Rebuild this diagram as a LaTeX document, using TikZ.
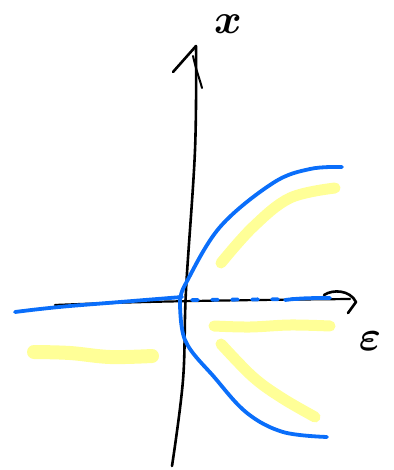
\documentclass[tikz,border=0pt]{standalone}
\usepackage{amsmath,bm}
\usetikzlibrary{calc}
\definecolor{penblue}{RGB}{10,110,250}
\definecolor{hilite}{RGB}{255,255,140}
\begin{document}
\begin{tikzpicture}[x=1pt,y=-1pt,
  ink/.style={line width=2.6pt,line cap=round,line join=round,black},
  bluepen/.style={line width=3.8pt,line cap=round,line join=round,penblue},
  marker/.style={line width=11pt,line cap=round,line join=round,hilite,opacity=0.9},
  lbl/.style={inner sep=0pt,scale=4.2}]
\useasboundingbox (0,0) rectangle (393,470);
% yellow highlights
\draw[marker] plot[smooth,tension=0.6] coordinates {(221,263) (253,227) (290,198) (335,188)};
\draw[marker] plot[smooth,tension=0.6] coordinates {(214,326) (250,327) (290,325) (330,326)};
\draw[marker] plot[smooth,tension=0.6] coordinates {(221,344) (253,377) (282,398) (315,417)};
\draw[marker,line width=14pt] plot[smooth,tension=0.6] coordinates {(34,352) (70,353) (110,357) (152,356)};
% axes
\coordinate (ytop) at (196,46);
\coordinate (ybot) at (172,466);
\draw[ink] plot[smooth,tension=0.6] coordinates {(ybot) (183,380) (186,290) (195,150) (ytop)};
\draw[ink] (ytop) -- (173,72);
\draw[ink,line width=2pt] (193,56) .. controls (196,70) and (200,80) .. (202,88);
\coordinate (xl) at (55,305);
\coordinate (xr) at (350,299);
\draw[ink,line width=2.2pt] (xl) .. controls (150,301) and (250,300) .. (xr);
\draw[ink] (324,295) .. controls (333,289) and (350,290) .. (356,302) -- (348,313);
% blue curves
\draw[bluepen] plot[smooth,tension=0.6] coordinates {(15,312) (40,309) (70,306) (120,302) (182,297)};
\draw[bluepen,dash pattern=on 6pt off 14pt] (192,300) -- (300,299);
\draw[bluepen] (285,300) .. controls (300,298) and (315,298) .. (330,298);
\draw[bluepen] plot[smooth,tension=0.6] coordinates {(181,297) (186,283) (220,227) (273,183) (310,169) (342,167)};
\draw[bluepen] plot[smooth,tension=0.6] coordinates {(180,296) (185,340) (215,378) (247,413) (283,432) (327,437)};
% labels
\node[lbl] (xlab) at (228,24) {$\bm{x}$};
\node[lbl] (elab) at (370,341) {$\bm{\varepsilon}$};
\end{tikzpicture}
\end{document}
